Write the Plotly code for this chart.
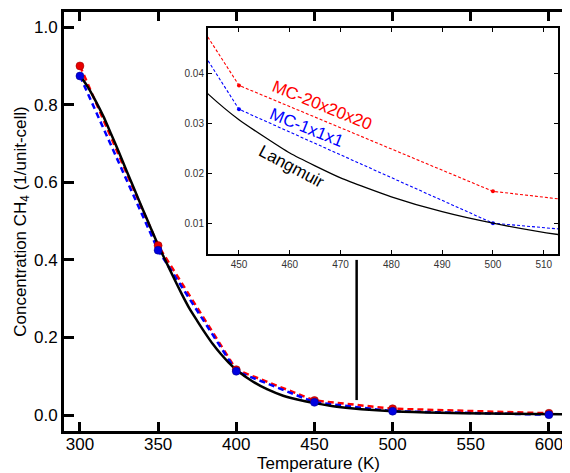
import plotly.graph_objects as go

# ---- data ----
temps = [300, 350, 400, 450, 500, 600]
mc_20x20x20 = [0.900, 0.437, 0.117, 0.0377, 0.0164, 0.0047]
mc_1x1x1 = [0.874, 0.425, 0.113, 0.0329, 0.0100, 0.0010]

langmuir_T = [300, 305, 310, 315, 320, 325, 330, 335, 340, 345, 350, 355, 360, 365,
              370, 375, 380, 385, 390, 395, 400, 410, 420, 430, 444, 450, 460, 470,
              480, 490, 500, 513, 530, 560, 590, 620]
langmuir_c = [0.876, 0.846, 0.810, 0.770, 0.724, 0.677, 0.628, 0.580, 0.532, 0.485,
              0.438, 0.396, 0.354, 0.313, 0.275, 0.243, 0.212, 0.183, 0.158, 0.136,
              0.117, 0.088, 0.066, 0.050, 0.0359, 0.0308, 0.0241, 0.0191, 0.0153,
              0.0123, 0.0100, 0.0077, 0.0058, 0.0038, 0.0027, 0.0020]

main_xticks = [300, 350, 400, 450, 500, 550, 600]
main_yticks = [0.0, 0.2, 0.4, 0.6, 0.8, 1.0]
inset_xticks = [450, 460, 470, 480, 490, 500, 510]
inset_yticks = [0.01, 0.02, 0.03, 0.04]

pointer_T = [477, 477]
pointer_c = [0.0387, 0.40]

RED = "#ff0000"
BLUE = "#0000ff"
FONT = "Liberation Sans, Arial, Helvetica, sans-serif"

fig = go.Figure()

# main plot lines
fig.add_trace(go.Scatter(x=temps, y=mc_20x20x20, mode="lines",
                         line=dict(color=RED, width=2.5, dash="6px,4px"),
                         xaxis="x", yaxis="y", showlegend=False))
fig.add_trace(go.Scatter(x=temps, y=mc_1x1x1, mode="lines",
                         line=dict(color=BLUE, width=2.5, dash="6px,4px"),
                         xaxis="x", yaxis="y", showlegend=False))
fig.add_trace(go.Scatter(x=langmuir_T, y=langmuir_c, mode="lines",
                         line=dict(color="black", width=2.5, shape="spline", smoothing=0.5),
                         xaxis="x", yaxis="y", showlegend=False))
fig.add_trace(go.Scatter(x=temps, y=mc_20x20x20, mode="markers",
                         marker=dict(color="#e80000", size=8, line=dict(color="#900000", width=0.5)),
                         xaxis="x", yaxis="y", showlegend=False))
fig.add_trace(go.Scatter(x=temps, y=mc_1x1x1, mode="markers",
                         marker=dict(color="#0000e0", size=8, line=dict(color="#000080", width=0.5)),
                         xaxis="x", yaxis="y", showlegend=False))
# pointer line
fig.add_trace(go.Scatter(x=pointer_T, y=pointer_c, mode="lines",
                         line=dict(color="black", width=2.5),
                         xaxis="x", yaxis="y", showlegend=False, hoverinfo="skip"))

# inset
fig.add_trace(go.Scatter(x=temps, y=mc_20x20x20, mode="lines+markers",
                         line=dict(color=RED, width=1.1, dash="3px,2px"),
                         marker=dict(color=RED, size=4),
                         xaxis="x2", yaxis="y2", showlegend=False))
fig.add_trace(go.Scatter(x=temps, y=mc_1x1x1, mode="lines+markers",
                         line=dict(color=BLUE, width=1.1, dash="3px,2px"),
                         marker=dict(color=BLUE, size=4),
                         xaxis="x2", yaxis="y2", showlegend=False))
fig.add_trace(go.Scatter(x=langmuir_T, y=langmuir_c, mode="lines",
                         line=dict(color="black", width=1.3, shape="spline", smoothing=0.5),
                         xaxis="x2", yaxis="y2", showlegend=False))

main_range_y = [-0.041, 1.039]

fig.update_layout(
    width=570, height=473,
    margin=dict(l=56, r=5, t=4, b=50, autoexpand=False),
    paper_bgcolor="white", plot_bgcolor="white",
    font=dict(family=FONT, color="black", size=17),
    xaxis=dict(
        domain=[0, 1], range=[289.8, 615.4], anchor="y", automargin=False,
        tickvals=main_xticks, ticks="inside", ticklen=9, tickwidth=2.5, tickcolor="black",
        showline=True, linewidth=3, linecolor="black", mirror="ticks",
        showgrid=False, zeroline=False, tickfont=dict(size=17), ticklabelstandoff=-4,
        title=dict(text="Temperature (K)", font=dict(size=17), standoff=2),
    ),
    yaxis=dict(
        domain=[0, 1], range=main_range_y, anchor="x", automargin=False,
        tickvals=main_yticks, tickformat=".1f", ticks="inside", ticklen=10, tickwidth=2.5,
        tickcolor="black", showline=True, linewidth=3, linecolor="black", mirror="ticks",
        showgrid=False, zeroline=False, tickfont=dict(size=17),
        title=dict(text="Concentration CH<sub>4</sub> (1/unit-cell)", font=dict(size=17), standoff=4),
    ),
    xaxis2=dict(
        domain=[0.2829, 0.9705], range=[443.9, 512.8], anchor="y2", automargin=False,
        tickvals=inset_xticks, ticks="inside", ticklen=4, tickwidth=1, tickcolor="black",
        showline=True, linewidth=2, linecolor="black", mirror="ticks",
        showgrid=False, zeroline=False, tickfont=dict(size=10, color="#333333"),
    ),
    yaxis2=dict(
        domain=[0.4224, 0.9625], range=[0.0038, 0.0493], anchor="x2", automargin=False,
        tickvals=inset_yticks, tickformat=".2f", ticks="inside", ticklen=4, tickwidth=1,
        tickcolor="black", showline=True, linewidth=2, linecolor="black", mirror="ticks",
        showgrid=False, zeroline=False, tickfont=dict(size=10, color="#333333"),
    ),
    annotations=[
        dict(text="MC-20x20x20", x=466.4, y=0.0336, xref="x2", yref="y2", showarrow=False,
             textangle=22, font=dict(size=17, color=RED, family=FONT)),
        dict(text="MC-1x1x1", x=463.2, y=0.0293, xref="x2", yref="y2", showarrow=False,
             textangle=22, font=dict(size=17, color=BLUE, family=FONT)),
        dict(text="Langmuir", x=460.3, y=0.0214, xref="x2", yref="y2", showarrow=False,
             textangle=28, font=dict(size=17, color="black", family=FONT)),
    ],
)

fig.write_html("out.html")
